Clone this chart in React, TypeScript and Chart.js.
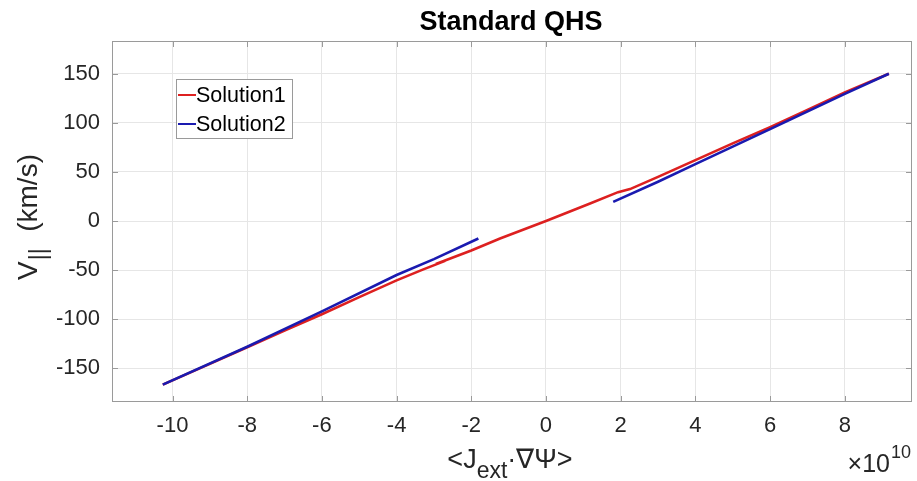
import React, { useEffect, useRef } from "react";
import { Chart, registerables } from "chart.js";

Chart.register(...registerables);

const titleText = "Standard QHS";
const legendLabels = ["Solution1", "Solution2"];
const xTicks = [-10, -8, -6, -4, -2, 0, 2, 4, 6, 8];
const yTicks = [-150, -100, -50, 0, 50, 100, 150];
const xRange = [-11.62, 9.8];
const yRange = [-184.3, 183.3];

const redX = [-10.26, -9, -8, -7, -6, -5, -4, -3.3, -2.7, -2.95, -2, -1.23, 0, 1.18, 1.93, 2.25, 3, 4, 5, 6, 7, 8, 9.18];
const redY = [-166.6, -145.5, -128.5, -111.5, -95, -77.5, -60.5, -49.5, -40.6, -43.8, -30, -17.8, 0, 17.9, 29.4, 32.5, 45, 62, 79, 95.5, 113, 131, 150];

const blueX = [-10.26, -8, -6, -4, -3, -1.81, null, 1.8, 3, 4, 6, 8, 9.18];
const blueY = [-166.6, -128, -92, -55, -38.8, -17.8, null, 19.5, 40, 58, 93.5, 129.5, 150];

const RED = "#dd2020";
const BLUE = "#1a1ab0";
const FONT = "'Liberation Sans', Arial, Helvetica, sans-serif";
const TEXT = "#262626";
const FRAME = "#9a9a9a";

function toPoints(xs: (number | null)[], ys: (number | null)[]) {
  return xs.map((x, i) => ({ x: x === null ? NaN : x, y: ys[i] === null ? null : ys[i] }));
}

const decorPlugin = {
  id: "decor",
  afterDraw(chart: any) {
    const { ctx, chartArea } = chart;
    const { left, right, top, bottom } = chartArea;
    const xs = chart.scales.x;
    const ys = chart.scales.y;
    ctx.save();
    // box
    ctx.strokeStyle = FRAME;
    ctx.lineWidth = 1;
    ctx.strokeRect(left + 0.5, top + 0.5, right - left - 1, bottom - top - 1);
    // inside ticks
    const tl = 6;
    ctx.beginPath();
    xTicks.forEach((v) => {
      const px = Math.round(xs.getPixelForValue(v)) + 0.5;
      ctx.moveTo(px, bottom);
      ctx.lineTo(px, bottom - tl);
      ctx.moveTo(px, top);
      ctx.lineTo(px, top + tl);
    });
    yTicks.forEach((v) => {
      const py = Math.round(ys.getPixelForValue(v)) + 0.5;
      ctx.moveTo(left, py);
      ctx.lineTo(left + tl, py);
      ctx.moveTo(right, py);
      ctx.lineTo(right - tl, py);
    });
    ctx.stroke();

    // title
    ctx.fillStyle = "#000";
    ctx.font = `bold 27px ${FONT}`;
    ctx.textAlign = "center";
    ctx.textBaseline = "alphabetic";
    ctx.fillText(titleText, 511, 30);

    // x label  <J_ext·∇Ψ>
    ctx.fillStyle = TEXT;
    ctx.textAlign = "left";
    const xl1 = "<J";
    const xl2 = "ext";
    const xl3 = "\u00B7\u2207\u03A8>";
    ctx.font = `27px ${FONT}`;
    const w1 = ctx.measureText(xl1).width;
    const w3 = ctx.measureText(xl3).width;
    ctx.font = `23px ${FONT}`;
    const w2 = ctx.measureText(xl2).width;
    const totalW = w1 + w2 + w3;
    let sx = 510 - totalW / 2;
    const base = 468;
    ctx.font = `27px ${FONT}`;
    ctx.fillText(xl1, sx, base);
    sx += w1;
    ctx.font = `23px ${FONT}`;
    ctx.fillText(xl2, sx, base + 10);
    sx += w2;
    ctx.font = `27px ${FONT}`;
    ctx.fillText(xl3, sx, base);

    // exponent ×10^10
    ctx.textAlign = "right";
    ctx.font = `18px ${FONT}`;
    const supW = ctx.measureText("10").width;
    ctx.fillText("10", 911, 458);
    ctx.font = `25px ${FONT}`;
    ctx.fillText("\u00D710", 911 - supW - 1, 472);

    // y label V_||  (km/s)
    ctx.save();
    ctx.translate(37, 218);
    ctx.rotate(-Math.PI / 2);
    ctx.textAlign = "left";
    ctx.font = `28px ${FONT}`;
    const a = "V";
    const b = "||";
    const c = "  (km/s)";
    const wa = ctx.measureText(a).width;
    const wc = ctx.measureText(c).width;
    ctx.font = `23px ${FONT}`;
    const wb = ctx.measureText(b).width;
    let ly = -(wa + wb + wc) / 2;
    ctx.font = `28px ${FONT}`;
    ctx.fillText(a, ly, 0);
    ly += wa;
    ctx.font = `23px ${FONT}`;
    ctx.fillText(b, ly + 1, 9);
    ly += wb + 2;
    ctx.font = `28px ${FONT}`;
    ctx.fillText(c, ly, 0);
    ctx.restore();

    // legend
    const lx = 176, ly0 = 79, lw = 116, lh = 59;
    ctx.fillStyle = "#fff";
    ctx.fillRect(lx, ly0, lw, lh);
    ctx.strokeStyle = FRAME;
    ctx.lineWidth = 1;
    ctx.strokeRect(lx + 0.5, ly0 + 0.5, lw, lh);
    const rows = [
      { label: legendLabels[0], color: RED, y: 95 },
      { label: legendLabels[1], color: BLUE, y: 124 },
    ];
    ctx.font = `21.5px ${FONT}`;
    ctx.textAlign = "left";
    ctx.textBaseline = "middle";
    rows.forEach((r) => {
      ctx.strokeStyle = r.color;
      ctx.lineWidth = 2;
      ctx.beginPath();
      ctx.moveTo(178, r.y);
      ctx.lineTo(196, r.y);
      ctx.stroke();
      ctx.fillStyle = "#000";
      ctx.fillText(r.label, 196, r.y + 1);
    });
    ctx.restore();
  },
};

export default function App() {
  const ref = useRef<HTMLCanvasElement | null>(null);
  useEffect(() => {
    document.body.style.margin = "0";
    const canvas = ref.current;
    if (!canvas) return;
    const chart = new Chart(canvas, {
      type: "scatter",
      data: {
        datasets: [
          {
            label: legendLabels[1],
            data: toPoints(blueX, blueY) as any,
            showLine: true,
            borderColor: BLUE,
            backgroundColor: BLUE,
            borderWidth: 2.6,
            pointRadius: 0,
            spanGaps: false,
          },
          {
            label: legendLabels[0],
            data: toPoints(redX, redY) as any,
            showLine: true,
            borderColor: RED,
            backgroundColor: RED,
            borderWidth: 2.6,
            pointRadius: 0,
            spanGaps: false,
          },
        ],
      },
      options: {
        responsive: false,
        animation: false,
        devicePixelRatio: 1,
        layout: { padding: { left: 0, right: 5, top: 41, bottom: 0 } },
        plugins: {
          legend: { display: false },
          tooltip: { enabled: false },
          title: { display: false },
        },
        scales: {
          x: {
            type: "linear",
            min: xRange[0],
            max: xRange[1],
            afterBuildTicks: (s: any) => {
              s.ticks = xTicks.map((v) => ({ value: v }));
            },
            afterFit: (s: any) => {
              s.height = 79;
            },
            ticks: {
              font: { family: FONT, size: 22 },
              color: TEXT,
              padding: 11,
              maxRotation: 0,
              autoSkip: false,
              callback: (v: any) => String(v),
            },
            grid: { color: "#e6e6e6", drawTicks: false, lineWidth: 1 },
            border: { display: false },
          },
          y: {
            type: "linear",
            min: yRange[0],
            max: yRange[1],
            afterBuildTicks: (s: any) => {
              s.ticks = yTicks.map((v) => ({ value: v }));
            },
            afterFit: (s: any) => {
              s.width = 112;
            },
            ticks: {
              font: { family: FONT, size: 22 },
              color: TEXT,
              padding: 12,
              autoSkip: false,
              callback: (v: any) => String(v),
            },
            grid: { color: "#e6e6e6", drawTicks: false, lineWidth: 1 },
            border: { display: false },
          },
        },
      },
      plugins: [decorPlugin],
    });
    return () => chart.destroy();
  }, []);
  return (
    <div style={{ width: 917, height: 481, background: "#fff" }}>
      <canvas ref={ref} width={917} height={481} style={{ width: 917, height: 481, display: "block" }} />
    </div>
  );
}
